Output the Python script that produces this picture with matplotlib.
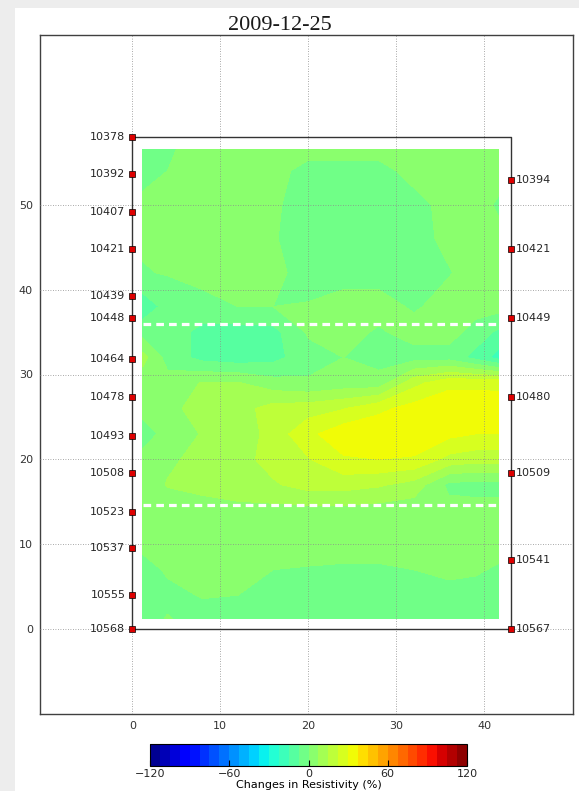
"""
Resistivity change section between two boreholes (2009-12-25).
"""

import matplotlib

matplotlib.use("Agg")

import matplotlib.pyplot as plt
import numpy as np
from matplotlib.patches import Rectangle


OUTPUT_PATH = "out.png"

TITLE = "2009-12-25"

# electrode depths (labels) and their positions along each borehole
LEFT_LABELS = [10378, 10392, 10407, 10421, 10439, 10448, 10464,
               10478, 10493, 10508, 10523, 10537, 10555, 10568]
LEFT_Y = [58.0, 53.6, 49.1, 44.8, 39.3, 36.6, 31.8,
          27.3, 22.8, 18.4, 13.8, 9.5, 4.0, 0.0]
LEFT_X = 0.0

RIGHT_LABELS = [10394, 10421, 10449, 10480, 10509, 10541, 10567]
RIGHT_Y = [52.9, 44.8, 36.6, 27.3, 18.4, 8.2, 0.0]
RIGHT_X = 43.0

# dashed horizontal markers
MARKER_DEPTHS = [35.9, 14.6]
MARKER_X = [1.2, 41.4]

# inverted field (percent change), rows top to bottom
FIELD_X = [1.2, 4, 8, 12, 16, 20, 24, 28, 32, 36, 39, 41.6]
FIELD_Y = [56.5, 54, 50, 46, 42, 38, 35, 32, 29, 26, 23, 20, 17, 14, 10, 7, 4, 1.2]
FIELD_VALUES = [
    [-3, -1, 3, 3, 3, 3, 3, 3, 3, 3, 3, 3],
    [-3, 0, 3, 3, 3, -3, -3, -3, 3, 3, 3, 3],
    [2, 3, 3, 3, 1, -3, -3, -3, -3, 3, 3, -1],
    [1, 3, 3, 3, 0.5, -3, -3, -3, -3, 2, 3, 2],
    [-0.5, 0.5, 3, 3, 2, -3, -3, -3, -3, -0.5, 3, 3],
    [-12, -5, -3, 0, 0, 0.5, 3, 3, -1, 3, 3, 3],
    [-3, -3, -10, -11, -10, 1, 3, -1, 3, 3, -3, -9],
    [10, -3, -10, -12, -10, -3, 0, -3, -3, -3, -10, -18],
    [3, 3, 8, 8, 3, 1, 3, 3, 20, 28, 28, 28],
    [3, 5, 11, 12, 18, 19, 22, 28, 33, 35, 35, 34],
    [-4, 3, 8, 10, 18, 28, 35, 36, 36, 32, 30, 30],
    [3, 6, 10, 12, 18, 22, 29, 30, 29, 20, 18, 18],
    [3, 8, 10, 12, 14, 18, 18, 16, 12, -2, -3, -3],
    [3, 3, 4, 5, 5, 5, 5, 4, 3, 3, 3, 3],
    [2, 3, 3, 3, 3, 3, 3, 3, 3, 3, 3, 3],
    [-3, 1, 2, 1, 0, -0.5, -1, -1, 0, 2, 1, -1],
    [-3, -2, 0.5, 0, -2, -3, -3, -3, -3, -3, -3, -3],
    [-3, 0.5, -3, -3, -3, -3, -3, -3, -3, -3, -3, -3],
]

CBAR_TICKS = [-120, -60, 0, 60, 120]
X_TICKS = [0, 10, 20, 30, 40]
Y_TICKS = [0, 10, 20, 30, 40, 50]


def main():
    fig = plt.figure(figsize=(5.79, 7.91), dpi=100, facecolor="#ededed")
    fig.patches.append(
        Rectangle((15 / 579, 0), 1, 1 - 8 / 791, transform=fig.transFigure,
                  facecolor="white", edgecolor="none", zorder=-1)
    )

    ax = fig.add_axes([40 / 579, 1 - 714 / 791, 533 / 579, 679 / 791])

    levels = np.linspace(-120, 120, 33)
    cf = ax.contourf(FIELD_X, FIELD_Y, np.array(FIELD_VALUES),
                     levels=levels, cmap="jet", zorder=1)

    # borehole outline
    ax.plot([LEFT_X, LEFT_X, RIGHT_X, RIGHT_X, LEFT_X],
            [0, LEFT_Y[0], LEFT_Y[0], 0, 0],
            color="0.2", linewidth=1, zorder=3)

    for y in MARKER_DEPTHS:
        ax.plot(MARKER_X, [y, y], color="white", linewidth=2.3,
                linestyle=(0, (2.4, 1.6)), zorder=4)

    ax.plot([LEFT_X] * len(LEFT_Y), LEFT_Y, "s", color="#dd0000",
            markeredgecolor="black", markeredgewidth=0.5, markersize=5, zorder=5)
    ax.plot([RIGHT_X] * len(RIGHT_Y), RIGHT_Y, "s", color="#dd0000",
            markeredgecolor="black", markeredgewidth=0.5, markersize=5, zorder=5)

    for label, y in zip(LEFT_LABELS, LEFT_Y):
        ax.annotate(str(label), xy=(LEFT_X, y), xytext=(-5, 0),
                    textcoords="offset points", ha="right", va="center",
                    fontsize=8, color="0.15", zorder=6)
    for label, y in zip(RIGHT_LABELS, RIGHT_Y):
        ax.annotate(str(label), xy=(RIGHT_X, y), xytext=(4, 0),
                    textcoords="offset points", ha="left", va="center",
                    fontsize=8, color="0.15", zorder=6)

    ax.set_xlim(-10.5, 50.1)
    ax.set_ylim(-10, 70)
    ax.set_xticks(X_TICKS)
    ax.set_yticks(Y_TICKS)
    ax.tick_params(labelsize=8, direction="in", length=0, pad=5,
                   labelcolor="0.2")
    ax.grid(True, linestyle=(0, (1, 2)), color="0.55", linewidth=0.6, zorder=2)
    ax.set_axisbelow(False)
    for spine in ax.spines.values():
        spine.set_color("0.25")
        spine.set_linewidth(1)

    fig.text(280 / 579, 1 - 30 / 791, TITLE, ha="center", va="baseline",
             fontsize=16, family="Liberation Serif", color="0.1")

    cax = fig.add_axes([150 / 579, 1 - 766 / 791, 317 / 579, 22 / 791])
    cb = fig.colorbar(cf, cax=cax, orientation="horizontal", ticks=CBAR_TICKS)
    cb.ax.tick_params(labelsize=8, direction="in", length=4, pad=2,
                      labelcolor="0.15")
    cb.outline.set_linewidth(0.8)
    cb.set_label("Changes in Resistivity (%)", fontsize=8, labelpad=1)

    fig.savefig(OUTPUT_PATH, dpi=100, facecolor=fig.get_facecolor())
    plt.close(fig)


if __name__ == "__main__":
    main()
